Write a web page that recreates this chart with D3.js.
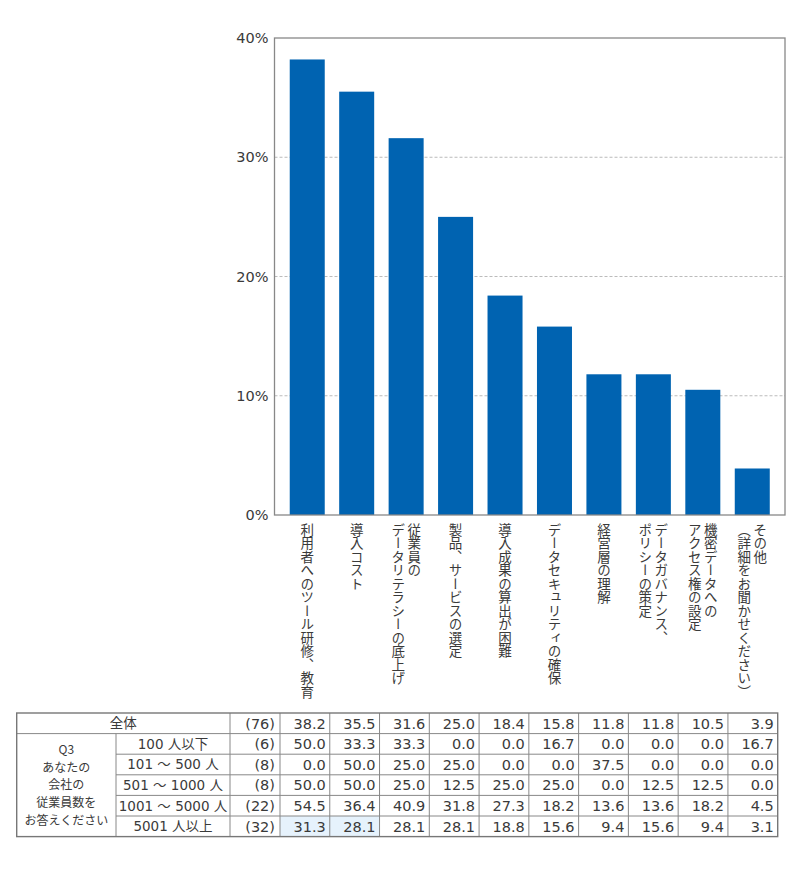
<!DOCTYPE html>
<html>
<head>
<meta charset="utf-8">
<script src="https://cdn.jsdelivr.net/npm/d3@7"></script>
<style>
body { margin: 0; background: #fff; }
svg text { fill: #3a3a3a; }
</style>
</head>
<body>
<svg id="chart" width="800" height="870"></svg>
<script>
// categories (each label split into its vertical columns, right column first)
var categories = [
	["利用者へのツール研修、教育"],
	["導入コスト"],
	["従業員の", "データリテラシーの底上げ"],
	["製品、サービスの選定"],
	["導入成果の算出が困難"],
	["データセキュリティの確保"],
	["経営層の理解"],
	["データガバナンス、", "ポリシーの策定"],
	["機密データへの", "アクセス権の設定"],
	["その他", "（詳細をお聞かせください）"]
]
var overall = [38.2, 35.5, 31.6, 25.0, 18.4, 15.8, 11.8, 11.8, 10.5, 3.9]
var overall_n = 76
var y_ticks = [0, 10, 20, 30, 40]

var group_title = ["Q3", "あなたの", "会社の", "従業員数を", "お答えください"]
var group_labels = ["100 人以下", "101 〜 500 人", "501 〜 1000 人", "1001 〜 5000 人", "5001 人以上"]
var group_n = [6, 8, 8, 22, 32]
var group_values = [
	[50.0, 33.3, 33.3, 0.0, 0.0, 16.7, 0.0, 0.0, 0.0, 16.7],
	[0.0, 50.0, 25.0, 25.0, 0.0, 0.0, 37.5, 0.0, 0.0, 0.0],
	[50.0, 50.0, 25.0, 12.5, 25.0, 25.0, 0.0, 12.5, 12.5, 0.0],
	[54.5, 36.4, 40.9, 31.8, 27.3, 18.2, 13.6, 13.6, 18.2, 4.5],
	[31.3, 28.1, 28.1, 28.1, 18.8, 15.6, 9.4, 15.6, 9.4, 3.1]
]
// cells shaded in the table: [group row, category]
var highlighted = [[4, 0], [4, 1]]

var svg = d3.select("#chart")
var num_font = "'DejaVu Sans', 'Noto Sans CJK JP', sans-serif"
var jp_font = "'Noto Sans CJK JP', sans-serif"

var plot = {left: 274.5, right: 785, top: 38, bottom: 515}

var x = d3.scaleBand()
	.domain(d3.range(categories.length))
	.range([plot.left, plot.right])
	.paddingInner(0.292)
	.paddingOuter(0.308)

var y = d3.scaleLinear()
	.domain([0, 40])
	.range([plot.bottom, plot.top])

// grid
svg.append("g").selectAll("line")
	.data(y_ticks.filter(function(d){ return d > 0 && d < 40 }))
.enter().append("line")
	.attr("x1", plot.left).attr("x2", plot.right)
	.attr("y1", function(d){ return y(d) }).attr("y2", function(d){ return y(d) })
	.attr("stroke", "#bbb")
	.attr("stroke-dasharray", "3,2")

// bars
svg.append("g").selectAll("rect")
	.data(overall)
.enter().append("rect")
	.attr("x", function(d, i){ return x(i) })
	.attr("width", x.bandwidth())
	.attr("y", function(d){ return y(d) })
	.attr("height", function(d){ return y(0) - y(d) })
	.attr("fill", "#0063b1")

// frame
svg.append("rect")
	.attr("x", plot.left).attr("y", plot.top)
	.attr("width", plot.right - plot.left).attr("height", plot.bottom - plot.top)
	.attr("fill", "none")
	.attr("stroke", "#888")
	.attr("stroke-width", 1.3)

// y axis
var y_axis = svg.append("g")
	.attr("transform", "translate(" + plot.left + ",0)")
	.call(d3.axisLeft(y).tickValues(y_ticks).tickSize(0).tickPadding(6)
		.tickFormat(function(d){ return d + "%" }))
y_axis.select(".domain").remove()
y_axis.selectAll("text")
	.style("font-family", num_font)
	.style("font-size", "14.5px")
	.attr("fill", "#3a3a3a")

// vertical category labels
var col_gap = 16
var label_g = svg.append("g")
categories.forEach(function(lines, i){
	var cx = x(i) + x.bandwidth() / 2
	lines.forEach(function(line, j){
		label_g.append("text")
			.attr("x", cx + (lines.length - 1) / 2 * col_gap - j * col_gap)
			.attr("y", 523)
			.style("writing-mode", "vertical-rl")
			.style("font-family", jp_font)
			.style("font-size", "13.5px")
			.text(line)
	})
})

// table
var t = {left: 16.7, group_col: 116, label_right: 230, n_right: 280, right: 777.7, top: 713, row_h: 20.6}
var val_x = d3.scaleBand()
	.domain(d3.range(categories.length))
	.range([t.n_right, t.right])

var rows = [{label: "全体", n: overall_n, values: overall}]
group_labels.forEach(function(l, k){
	rows.push({label: l, n: group_n[k], values: group_values[k]})
})
var row_y = function(r){ return t.top + r * t.row_h }

var table = svg.append("g")

// shaded cells
table.selectAll("rect.hl")
	.data(highlighted)
.enter().append("rect")
	.attr("class", "hl")
	.attr("x", function(d){ return val_x(d[1]) })
	.attr("y", function(d){ return row_y(d[0] + 1) })
	.attr("width", val_x.bandwidth())
	.attr("height", t.row_h)
	.attr("fill", "#e6f2fc")

// rules
var line_color = "#888"
var hline = function(x1, x2, yy){
	table.append("line").attr("x1", x1).attr("x2", x2).attr("y1", yy).attr("y2", yy)
		.attr("stroke", line_color).attr("stroke-width", 1)
}
var vline = function(xx, y1, y2){
	table.append("line").attr("x1", xx).attr("x2", xx).attr("y1", y1).attr("y2", y2)
		.attr("stroke", line_color).attr("stroke-width", 1)
}
hline(t.left, t.right, row_y(1))
for (var r = 2; r < rows.length; r++) hline(t.group_col, t.right, row_y(r))
vline(t.group_col, row_y(1), row_y(rows.length))
vline(t.label_right, row_y(0), row_y(rows.length))
d3.range(categories.length).forEach(function(i){ vline(val_x(i), row_y(0), row_y(rows.length)) })
table.append("rect")
	.attr("x", t.left).attr("y", t.top)
	.attr("width", t.right - t.left).attr("height", rows.length * t.row_h)
	.attr("fill", "none").attr("stroke", "#777").attr("stroke-width", 1.4)

// row labels, n and values
rows.forEach(function(row, r){
	var cy = row_y(r) + t.row_h / 2
	table.append("text")
		.attr("x", r == 0 ? (t.left + t.label_right) / 2 : (t.group_col + t.label_right) / 2)
		.attr("y", cy).attr("dy", "0.36em")
		.attr("text-anchor", "middle")
		.style("font-family", num_font)
		.style("font-size", "13.5px")
		.text(row.label)
	table.append("text")
		.attr("x", t.n_right - 5)
		.attr("y", cy).attr("dy", "0.36em")
		.attr("text-anchor", "end")
		.style("font-family", num_font)
		.style("font-size", "14.5px")
		.text("(" + row.n + ")")
	table.selectAll(null)
		.data(row.values)
	.enter().append("text")
		.attr("x", function(d, i){ return val_x(i) + val_x.bandwidth() - 4 })
		.attr("y", cy).attr("dy", "0.36em")
		.attr("text-anchor", "end")
		.style("font-family", num_font)
		.style("font-size", "14.5px")
		.text(function(d){ return d.toFixed(1) })
})

// group title, spread over the body rows
var g_step = 17.6
var g_mid = (row_y(1) + row_y(rows.length)) / 2
table.selectAll("text.gt")
	.data(group_title)
.enter().append("text")
	.attr("class", "gt")
	.attr("x", (t.left + t.group_col) / 2)
	.attr("y", function(d, k){ return g_mid + (k - (group_title.length - 1) / 2) * g_step })
	.attr("dy", "0.36em")
	.attr("text-anchor", "middle")
	.style("font-family", jp_font)
	.style("font-size", "12px")
	.text(function(d){ return d })
</script>
</body>
</html>
